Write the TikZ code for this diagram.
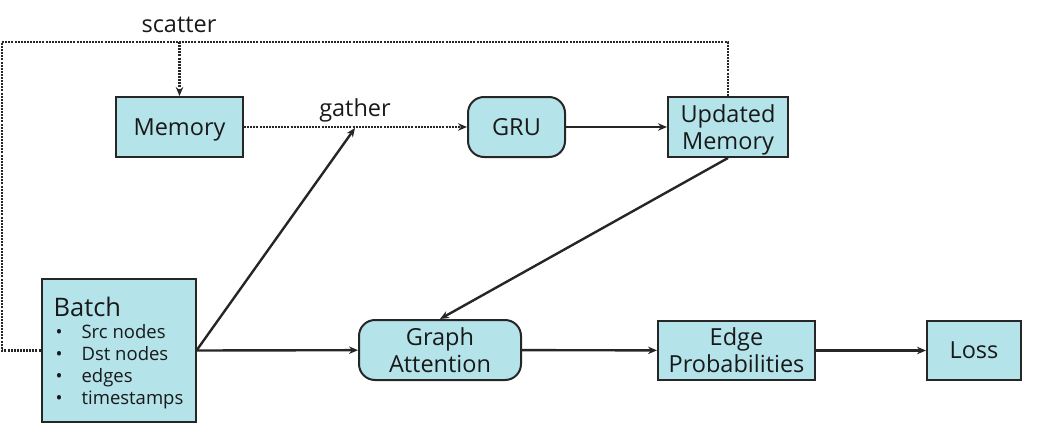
\documentclass[tikz,border=0pt]{standalone}
\usepackage{fontspec}
\setmainfont{Open Sans}
\usetikzlibrary{arrows.meta}
\definecolor{boxfill}{RGB}{180,227,234}
\definecolor{linecol}{RGB}{38,38,38}

\begin{document}
\begin{tikzpicture}[x=1pt, y=-1pt, >={Stealth[length=9pt,width=7.5pt]},
  box/.style={draw=linecol, line width=2pt, fill=boxfill, text=black!90, inner sep=0pt,
    minimum height=60, text depth=0pt, align=center, font=\fontsize{23.5}{27}\selectfont},
  rbox/.style={box, rounded corners=16pt},
  flow/.style={draw=linecol, line width=2.4pt, ->},
  dots/.style={draw=linecol, line width=2.6pt, dash pattern=on 2pt off 1.1pt},
  lbl/.style={text=black!90, font=\fontsize{23.5}{27}\selectfont}]
  \useasboundingbox (0,0) rectangle (1044,423);
  % boxes
  \node[box, minimum width=127] (mem) at (179.5,127) {Memory};
  \node[rbox, minimum width=97] (gru) at (516.5,127) {GRU};
  \node[box, minimum width=120] (upd) at (728,127) {Updated\\Memory};
  \node[rbox, minimum width=162] (ga) at (440,350) {Graph\\Attention};
  \node[box, minimum width=157, minimum height=59] (ep) at (736.5,350.5) {Edge\\Probabilities};
  \node[box, minimum width=94, minimum height=59] (loss) at (974,350.5) {Loss};
  \node[box, minimum width=154, minimum height=143, align=left,
    font=\fontsize{18.5}{21.7}\selectfont] (batch) at (118.5,350.5)
    {{\fontsize{25.5}{30}\selectfont Batch}\\[1pt]
     \hspace*{2pt}\makebox[26pt][l]{\textbullet}Src nodes\\
     \hspace*{2pt}\makebox[26pt][l]{\textbullet}Dst nodes\\
     \hspace*{2pt}\makebox[26pt][l]{\textbullet}edges\\
     \hspace*{2pt}\makebox[26pt][l]{\textbullet}timestamps};
  % labels
  \node[lbl] (sclbl) at (179,25) {scatter};
  \node[lbl] (galbl) at (355,110) {gather};
  \coordinate (g) at (355,128);
  \coordinate (lt) at (2,42);
  \coordinate (sc) at (mem.north |- lt);
  % dotted memory paths
  \draw[dots] (batch.west) -| (lt) -| (upd.north);
  \draw[dots, ->] (sc) -- (mem.north);
  \draw[dots, ->] (mem) -- (gru);
  % solid flows
  \draw[flow] (gru) -- (upd);
  \draw[flow] (batch.east) -- (g);
  \draw[flow] (batch.east) -- (ga);
  \draw[flow] (upd.south) -- (ga.north);
  \draw[flow] (ga) -- (ep);
  \draw[flow] (ep) -- (loss);
\end{tikzpicture}
\end{document}
